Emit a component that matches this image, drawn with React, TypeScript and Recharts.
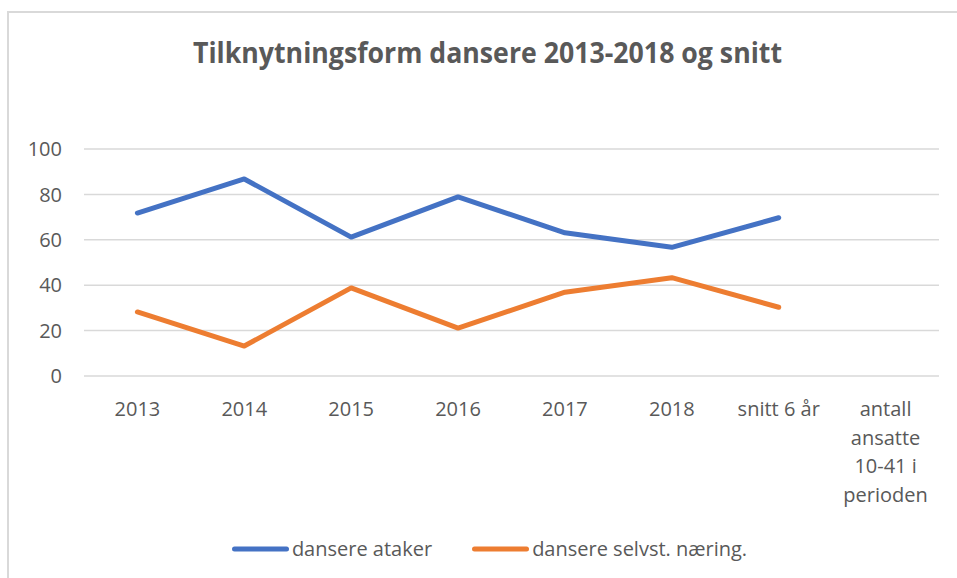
import { LineChart, Line, XAxis, YAxis, CartesianGrid, Legend } from 'recharts';

const categories = [
  '2013',
  '2014',
  '2015',
  '2016',
  '2017',
  '2018',
  'snitt 6 år',
  'antall ansatte 10-41 i perioden',
];
const ataker = [71.8, 86.8, 61.2, 78.9, 63.1, 56.7, 69.7, null];
const selvst = [28.2, 13.2, 38.8, 21.1, 36.9, 43.3, 30.3, null];
const yTicks = [0, 20, 40, 60, 80, 100];

const series = [
  { key: 'ataker', label: 'dansere ataker', color: '#4472C4' },
  { key: 'selvst', label: 'dansere selvst. næring.', color: '#ED7D31' },
];

const data = categories.map((name, i) => ({ name, ataker: ataker[i], selvst: selvst[i] }));

const FONT = '"Open Sans", "Noto Sans", sans-serif';
const TEXT = '#595959';
const GRID = '#d9d9d9';

// greedy word wrap, like Excel does when a label is wider than its band
const wrapLabel = (s: string, max: number) => {
  const words = s.split(' ');
  const lines: string[] = [];
  let cur = '';
  words.forEach((w) => {
    if (!cur) cur = w;
    else if ((cur + ' ' + w).length <= max) cur += ' ' + w;
    else {
      lines.push(cur);
      cur = w;
    }
  });
  if (cur) lines.push(cur);
  return lines;
};

const XTick = (props: any) => {
  const { x, y, payload } = props;
  const lines = wrapLabel(String(payload.value), 10);
  return (
    <text x={x} y={y} textAnchor="middle" fill={TEXT} fontSize={20} fontFamily={FONT}>
      {lines.map((l, i) => (
        <tspan key={i} x={x} dy={i === 0 ? 40 : 28.5}>
          {l}
        </tspan>
      ))}
    </text>
  );
};

const LegendContent = () => (
  <div
    style={{
      display: 'flex',
      justifyContent: 'center',
      alignItems: 'center',
      gap: 40,
      fontFamily: FONT,
      fontSize: 20,
      color: TEXT,
      paddingLeft: 22,
    }}
  >
    {series.map(({ key, label, color }) => (
      <div key={key} style={{ display: 'flex', alignItems: 'center' }}>
        <svg width={57} height={8} style={{ marginRight: 3 }}>
          <line x1={2.5} y1={4} x2={54.5} y2={4} stroke={color} strokeWidth={5} strokeLinecap="round" />
        </svg>
        <span>{label}</span>
      </div>
    ))}
  </div>
);

export default function App() {
  return (
    <div
      style={{
        position: 'fixed',
        left: 0,
        top: 0,
        width: 957,
        height: 578,
        overflow: 'hidden',
        background: '#fff',
      }}
    >
      <div
        style={{
          position: 'absolute',
          left: 7,
          top: 11,
          width: 1000,
          height: 700,
          border: `2px solid ${GRID}`,
        }}
      />
      <svg width={957} height={80} style={{ position: 'absolute', left: 0, top: 0 }}>
        <text
          x={193}
          y={63}
          textLength={589}
          lengthAdjust="spacingAndGlyphs"
          fontSize={29}
          fontWeight="bold"
          fontFamily={FONT}
          fill={TEXT}
        >
          Tilknytningsform dansere 2013-2018 og snitt
        </text>
      </svg>
      <div style={{ position: 'absolute', left: 0, top: 0 }}>
        <LineChart width={957} height={578} data={data} margin={{ top: 149, right: 18, left: 0, bottom: 102 }}>
          <CartesianGrid vertical={false} stroke={GRID} strokeWidth={1.5} />
          <XAxis
            dataKey="name"
            scale="point"
            padding={{ left: 53.4, right: 53.4 }}
            axisLine={false}
            tickLine={false}
            tickSize={0}
            tickMargin={0}
            height={100}
            interval={0}
            tick={<XTick />}
          />
          <YAxis
            domain={[0, 100]}
            ticks={yTicks}
            width={84}
            axisLine={false}
            tickLine={false}
            tickSize={0}
            tickMargin={22}
            tick={{ fill: TEXT, fontSize: 20, fontFamily: FONT }}
          />
          <Legend
            layout="horizontal"
            verticalAlign="middle"
            align="center"
            wrapperStyle={{ top: 535, left: 0, width: 957 }}
            content={<LegendContent />}
          />
          {series.map(({ key, label, color }) => (
            <Line
              key={key}
              dataKey={key}
              name={label}
              stroke={color}
              strokeWidth={5}
              strokeLinecap="round"
              strokeLinejoin="round"
              dot={false}
              activeDot={false}
              isAnimationActive={false}
            />
          ))}
        </LineChart>
      </div>
    </div>
  );
}
